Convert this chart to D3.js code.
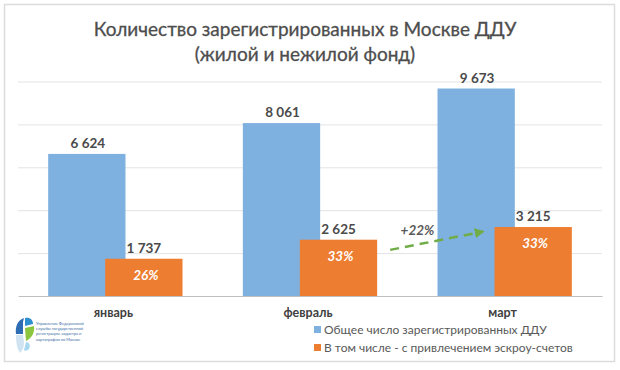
<!DOCTYPE html>
<html>
<head>
<meta charset="utf-8">
<script src="https://cdn.jsdelivr.net/npm/d3@7"></script>
<style>
  html, body { margin: 0; padding: 0; background: #fff; }
  svg { display: block; }
  text { font-family: Lato, "Open Sans", sans-serif; }
</style>
</head>
<body>
<svg id="chart" width="620" height="370"></svg>
<script>
// ---- data ----
const categories = ["январь", "февраль", "март"];
const totalValues = [6624, 8061, 9673];
const escrowValues = [1737, 2625, 3215];
const escrowShares = ["26%", "33%", "33%"];
const yTicks = [0, 2000, 4000, 6000, 8000, 10000];
const seriesNames = ["Общее число зарегистрированных ДДУ", "В том числе - с привлечением эскроу-счетов"];
const titleLines = ["Количество зарегистрированных в Москве ДДУ", "(жилой и нежилой фонд)"];
const growthLabel = "+22%";
const growthFrom = { cat: "февраль", value: 2150 };
const growthTo = { cat: "март", value: 3000 };
const logoLines = ["Управление Федеральной", "службы государственной", "регистрации, кадастра и", "картографии по Москве"];

const colors = { total: "#7EB0E0", escrow: "#ED7D31", grid: "#E3E3E3", axis: "#BFBFBF", text: "#404040", title: "#595959", arrow: "#70AD47" };

const svg = d3.select("#chart");

// frame
svg.append("rect").attr("x", 4.5).attr("y", 4.5).attr("width", 610).attr("height", 357)
  .attr("fill", "#fff").attr("stroke", "#DCDCDC").attr("stroke-width", 1.5);

// title
svg.append("g").selectAll("text").data(titleLines).join("text")
  .attr("x", 305).attr("y", (d, i) => 36 + i * 25)
  .attr("text-anchor", "middle").attr("font-size", 19).attr("fill", "#4D4D4D")
  .attr("stroke", "#4D4D4D").attr("stroke-width", 0.3)
  .text(d => d);

// scales
const y = d3.scaleLinear().domain([0, 10000]).range([296, 81.5]);
const x = d3.scaleBand().domain(categories).range([18, 602]).paddingInner(0.31).paddingOuter(0.155);
const xs = d3.scaleBand().domain(["total", "escrow"]).range([0, x.bandwidth()]).paddingInner(-0.356);

// gridlines
svg.append("g").selectAll("line").data(yTicks.filter(t => t > 0)).join("line")
  .attr("x1", 18).attr("x2", 602).attr("y1", d => y(d) + 0.5).attr("y2", d => y(d) + 0.5)
  .attr("stroke", colors.grid).attr("stroke-width", 1);

const rows = categories.map((c, i) => ({ cat: c, total: totalValues[i], escrow: escrowValues[i], share: escrowShares[i] }));

// total bars
svg.append("g").selectAll("rect").data(rows).join("rect")
  .attr("x", d => x(d.cat) + xs("total")).attr("width", xs.bandwidth())
  .attr("y", d => y(d.total)).attr("height", d => y(0) - y(d.total))
  .attr("fill", colors.total);

// escrow bars
svg.append("g").selectAll("rect").data(rows).join("rect")
  .attr("x", d => x(d.cat) + xs("escrow")).attr("width", xs.bandwidth())
  .attr("y", d => y(d.escrow)).attr("height", d => y(0) - y(d.escrow))
  .attr("fill", colors.escrow);

// x axis line
const xAxis = d3.axisBottom(x).tickSize(0).tickPadding(12);
const gx = svg.append("g").attr("transform", `translate(0,${y(0)})`).call(xAxis);
gx.select(".domain").attr("stroke", colors.axis).attr("stroke-width", 1.2);
gx.selectAll("text").attr("font-size", 12.5).attr("font-weight", "bold").attr("fill", colors.text)
  .attr("font-family", "Lato, sans-serif").attr("dx", -2);

const fmt = v => d3.format(",")(v).replace(/,/g, " ");

// value labels
svg.append("g").selectAll("text").data(rows).join("text")
  .attr("x", d => x(d.cat) + xs("total") + xs.bandwidth() / 2 + 1)
  .attr("y", d => y(d.total) - 6)
  .attr("text-anchor", "middle").attr("font-size", 13.5).attr("font-weight", "bold").attr("fill", "#4A4A4A")
  .text(d => fmt(d.total));
svg.append("g").selectAll("text").data(rows).join("text")
  .attr("x", d => x(d.cat) + xs("escrow") + xs.bandwidth() / 2)
  .attr("y", d => y(d.escrow) - 6)
  .attr("text-anchor", "middle").attr("font-size", 13.5).attr("font-weight", "bold").attr("fill", "#4A4A4A")
  .text(d => fmt(d.escrow));
// share labels
svg.append("g").selectAll("text").data(rows).join("text")
  .attr("x", d => x(d.cat) + xs("escrow") + xs.bandwidth() / 2 + 2)
  .attr("y", d => y(d.escrow) + 21)
  .attr("text-anchor", "middle").attr("font-size", 13.5).attr("font-weight", "bold").attr("font-style", "italic")
  .attr("fill", "#fff").text(d => d.share);

// growth arrow
const defs = svg.append("defs");
defs.append("marker").attr("id", "arr").attr("viewBox", "0 0 10 10").attr("refX", 8).attr("refY", 5)
  .attr("markerWidth", 4).attr("markerHeight", 4).attr("orient", "auto")
  .append("path").attr("d", "M0,0 L10,5 L0,10 z").attr("fill", colors.arrow);
const ax1 = x(growthFrom.cat) + xs("escrow") + xs.bandwidth() + 13;
const ay1 = y(growthFrom.value);
const ax2 = x(growthTo.cat) + xs("total") + xs.bandwidth() - 32;
const ay2 = y(growthTo.value);
svg.append("line").attr("x1", ax1).attr("y1", ay1).attr("x2", ax2).attr("y2", ay2)
  .attr("stroke", colors.arrow).attr("stroke-width", 2.5).attr("stroke-dasharray", "9,6")
  .attr("marker-end", "url(#arr)");
svg.append("text").attr("x", (ax1 + ax2) / 2 - 19).attr("y", y(growthTo.value) + 3)
  .attr("text-anchor", "middle").attr("font-size", 13.5).attr("font-weight", "bold").attr("font-style", "italic")
  .attr("fill", colors.title).text(growthLabel);

// legend
const legend = svg.append("g").attr("transform", "translate(314,330)");
const lg = legend.selectAll("g").data(seriesNames).join("g").attr("transform", (d, i) => `translate(0,${i * 18})`);
lg.append("rect").attr("x", 0).attr("y", -4).attr("width", 7).attr("height", 7)
  .attr("fill", (d, i) => i === 0 ? colors.total : colors.escrow);
lg.append("text").attr("x", 10).attr("y", 4).attr("font-size", 12).attr("fill", colors.title).text(d => d);

// logo
const logo = svg.append("g").attr("transform", "translate(14,316)");
logo.append("path").attr("d", "M10,2 C4,4 1,10 2,18 L9,18 L9,6 Z").attr("fill", "#2E6DB4");
logo.append("path").attr("d", "M11,2 C16,1 19,4 19,8 L11,10 Z").attr("fill", "#2E8FD0");
logo.append("path").attr("d", "M2,19 L9,19 L10,27 C10,32 8,35 6,37 C3,33 2,26 2,19 Z").attr("fill", "#CFE3F2");
logo.append("path").attr("d", "M11,12 L20,10 C21,16 18,22 12,25 Z").attr("fill", "#8CC63F");
logo.append("path").attr("d", "M12,26 C15,26 17,29 15,33 C13,35 11,35 10,34 Z").attr("fill", "#A8D8F0");
logo.selectAll("text").data(logoLines).join("text")
  .attr("x", 22).attr("y", (d, i) => 9 + i * 5.2)
  .attr("font-size", 4).attr("fill", "#3A6EA5").text(d => d);
</script>
</body>
</html>
